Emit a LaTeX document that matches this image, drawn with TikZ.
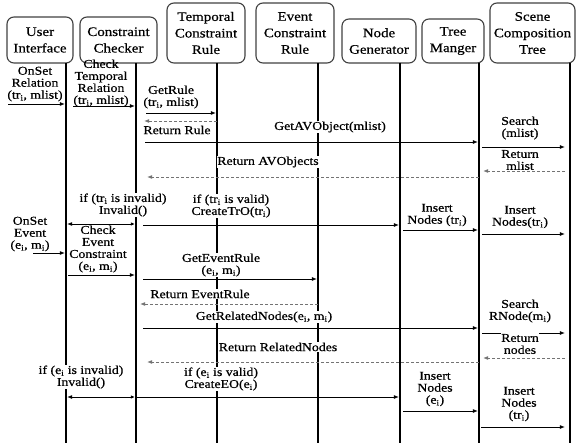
\documentclass[tikz,border=0pt]{standalone}
\usepackage{fontspec}
\setmainfont{Liberation Serif}[FakeStretch=1.15,FakeBold=0.6]
\usetikzlibrary{arrows.meta}
\begin{document}
\begin{tikzpicture}[x=1pt,y=-1pt,
  head/.style={draw=black!75, line width=1.1pt, rounded corners=7pt, align=center,
    font=\fontsize{13}{16.5}\selectfont, inner sep=0pt},
  life/.style={line width=2.2pt},
  msg/.style={line width=0.9pt, shorten >=1.1pt, -{Latex[length=5pt,width=4pt]}},
  both/.style={line width=0.9pt, shorten >=1.1pt, shorten <=1.1pt,
    {Latex[length=4pt,width=3.5pt]}-{Latex[length=5pt,width=4pt]}},
  ret/.style={msg, dash pattern=on 3pt off 2pt, draw=black!55},
  lbl/.style={fill=white, inner sep=0.6pt, align=center, font=\fontsize{12}{12}\selectfont},
  plain/.style={lbl, fill=none}]

\useasboundingbox (0,0) rectangle (577,443);

% participants
\node[head, minimum width=66pt, minimum height=46pt] (ui)   at (40,40)    {User\\Interface};
\node[head, minimum width=77pt, minimum height=46pt] (cc)   at (118.5,40) {Constraint\\Checker};
\node[head, minimum width=78pt, minimum height=60pt] (tcr)  at (206,33)   {Temporal\\Constraint\\Rule};
\node[head, minimum width=78pt, minimum height=60pt] (ecr)  at (295,33)   {Event\\Constraint\\Rule};
\node[head, minimum width=74pt, minimum height=44pt] (ng)   at (379,41)   {Node\\Generator};
\node[head, minimum width=62pt, minimum height=44pt] (tm)   at (453,41)   {Tree\\Manger};
\node[head, minimum width=85pt, minimum height=60pt] (sct)  at (532.5,33) {Scene\\Composition\\Tree};

% lifelines
\coordinate (Lui)  at (66,63);
\coordinate (Lcc)  at (136,63);
\coordinate (Ltcr) at (217,63);
\coordinate (Lecr) at (318,63);
\coordinate (Lng)  at (400,63);
\coordinate (Ltm)  at (479,63);
\coordinate (Lsct) at (570,63);
\foreach \l in {Lui,Lcc,Ltcr,Lecr,Lng,Ltm,Lsct}
  \draw[life] (\l) -- (\l |- 0,443);

% messages
\draw[msg] ([xshift=-58pt]Lui |- 0,104) -- (Lui |- 0,104);
\draw[msg] ([xshift=7pt]Lui |- 0,106) -- (Lcc |- 0,106);
\draw[msg] ([xshift=10pt]Lcc |- 0,113) -- (Ltcr |- 0,113);
\draw[ret] (Ltcr |- 0,121) -- ([xshift=7pt]Lcc |- 0,121);
\draw[msg] ([xshift=9pt]Lcc |- 0,142) -- (Ltm |- 0,142);
\draw[msg] ([xshift=3pt]Ltm |- 0,147) -- ([xshift=-4pt]Lsct |- 0,147);
\draw[ret] ([xshift=-5pt]Lsct |- 0,171) -- ([xshift=3pt]Ltm |- 0,171);
\draw[ret] (Ltm |- 0,177) -- ([xshift=10pt]Lcc |- 0,177);
\draw[both] (Lcc |- 0,224) -- (Lui |- 0,224);
\draw[msg] ([xshift=7pt]Lcc |- 0,225) -- (Lng |- 0,225);
\draw[msg] ([xshift=3pt]Lng |- 0,230) -- (Ltm |- 0,230);
\draw[msg] ([xshift=3pt]Ltm |- 0,234) -- ([xshift=-4pt]Lsct |- 0,234);
\draw[msg] ([xshift=-33pt]Lui |- 0,253) -- (Lui |- 0,253);
\draw[msg] ([xshift=2pt]Lui |- 0,275) -- (Lcc |- 0,275);
\draw[msg] ([xshift=7pt]Lcc |- 0,279) -- (Lecr |- 0,279);
\draw[ret] (Lecr |- 0,304) -- ([xshift=3pt]Lcc |- 0,304);
\draw[msg] ([xshift=7pt]Lcc |- 0,328) -- (Ltm |- 0,328);
\draw[msg] ([xshift=3pt]Ltm |- 0,333) -- ([xshift=-4pt]Lsct |- 0,333);
\draw[ret] ([xshift=-5pt]Lsct |- 0,358) -- ([xshift=3pt]Ltm |- 0,358);
\draw[ret] (Ltm |- 0,362) -- ([xshift=10pt]Lcc |- 0,362);
\draw[both] (Lcc |- 0,397) -- (Lui |- 0,397);
\draw[msg] (Lcc |- 0,397) -- (Lng |- 0,397);
\draw[msg] ([xshift=3pt]Lng |- 0,411) -- (Ltm |- 0,411);
\draw[msg] ([xshift=2pt]Ltm |- 0,427) -- ([xshift=-4pt]Lsct |- 0,427);

% message labels
\node[plain] (l1)  at (35,84)    {OnSet\\Relation\\(tr\textsubscript{i}, mlist)};
\node[plain] (l2)  at (101,83)   {Check\\Temporal\\Relation\\(tr\textsubscript{i}, mlist)};
\node[lbl]   (l3)  at (171,97)   {GetRule\\(tr\textsubscript{i}, mlist)};
\node[lbl]   (l4)  at (177,130)  {Return Rule};
\node[lbl]   (l5)  at (330,127)  {GetAVObject(mlist)};
\node[lbl]   (l6)  at (520,128)  {Search\\(mlist)};
\node[lbl]   (l7)  at (520,160)  {Return\\mlist};
\node[lbl]   (l8)  at (268,162)  {Return AVObjects};
\node[lbl]   (l9)  at (123,205)  {if (tr\textsubscript{i} is invalid)\\Invalid()};
\node[lbl]   (l10) at (231,206)  {if (tr\textsubscript{i} is valid)\\CreateTrO(tr\textsubscript{i})};
\node[lbl]   (l11) at (437,215)  {Insert\\Nodes (tr\textsubscript{i})};
\node[lbl]   (l12) at (520,217)  {Insert\\Nodes(tr\textsubscript{i})};
\node[plain] (l13) at (30,234)   {OnSet\\Event\\(e\textsubscript{i}, m\textsubscript{i})};
\node[plain] (l14) at (98,249)   {Check\\Event\\Constraint\\(e\textsubscript{i}, m\textsubscript{i})};
\node[lbl]   (l15) at (221,265)  {GetEventRule\\(e\textsubscript{i}, m\textsubscript{i})};
\node[lbl]   (l16) at (200,294)  {Return EventRule};
\node[lbl]   (l17) at (264,317)  {GetRelatedNodes(e\textsubscript{i}, m\textsubscript{i})};
\node[lbl]   (l18) at (520,311)  {Search\\RNode(m\textsubscript{i})};
\node[lbl]   (l19) at (520,344)  {Return\\nodes};
\node[lbl]   (l20) at (278,347)  {Return RelatedNodes};
\node[lbl]   (l21) at (81,377)   {if (e\textsubscript{i} is invalid)\\Invalid()};
\node[lbl]   (l22) at (221,379)  {if (e\textsubscript{i} is valid)\\CreateEO(e\textsubscript{i})};
\node[lbl]   (l23) at (435,389)  {Insert\\Nodes\\(e\textsubscript{i})};
\node[lbl]   (l24) at (519,404)  {Insert\\Nodes\\(tr\textsubscript{i})};
\end{tikzpicture}
\end{document}
